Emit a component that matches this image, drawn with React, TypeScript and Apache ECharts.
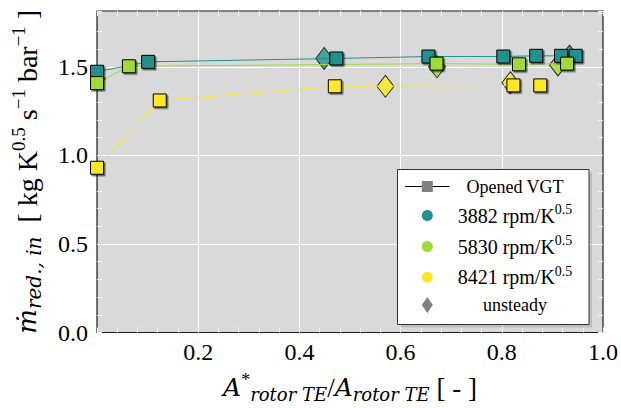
import React, { useEffect, useRef } from 'react';
import * as echarts from 'echarts';

// ---- data ----
const tealSteadyX = [0.0, 0.101, 0.473, 0.655, 0.803, 0.868, 0.917, 0.946];
const tealSteadyY = [1.472, 1.528, 1.547, 1.558, 1.558, 1.562, 1.562, 1.562];
const tealUnsteadyX = [0.449, 0.934];
const tealUnsteadyY = [1.547, 1.56];

const greenSteadyX = [0.0, 0.063, 0.671, 0.834, 0.929];
const greenSteadyY = [1.408, 1.503, 1.518, 1.514, 1.518];
const greenUnsteadyX = [0.672, 0.911];
const greenUnsteadyY = [1.5, 1.51];

const yellowSteadyX = [0.0, 0.124, 0.47, 0.823, 0.876];
const yellowSteadyY = [0.93, 1.31, 1.39, 1.395, 1.395];
const yellowUnsteadyX = [0.57, 0.817];
const yellowUnsteadyY = [1.39, 1.41];

const speedLabels = ['3882', '5830', '8421'];
const xTicks = [0.2, 0.4, 0.6, 0.8, 1.0];
const yTicks = [0.0, 0.5, 1.0, 1.5];

// ---- styles ----
const TEAL = '#21918c';
const GREEN = '#a0da39';
const YELLOW = '#fde725';
const serif = '"Liberation Serif", "DejaVu Serif", serif';
const mathIt = '"DejaVu Serif", "Liberation Serif", serif';

const pairs = (xs: number[], ys: number[]) => xs.map((x, i) => [x, ys[i]]);

const squareStyle = (color: string) => ({
  color,
  borderColor: '#000',
  borderWidth: 1,
  shadowColor: 'rgba(0,0,0,0.55)',
  shadowOffsetX: 1.5,
  shadowOffsetY: 1.5,
  shadowBlur: 0,
});

const steadySeries = (name: string, color: string, xs: number[], ys: number[]) => ({
  name,
  type: 'line',
  data: pairs(xs, ys),
  symbol: 'rect',
  symbolSize: 13,
  clip: false,
  lineStyle: { color, width: 1 },
  itemStyle: squareStyle(color),
});

const unsteadySeries = (name: string, color: string, xs: number[], ys: number[]) => ({
  name,
  type: 'scatter',
  data: pairs(xs, ys),
  symbol: 'diamond',
  symbolSize: [17, 22],
  clip: false,
  itemStyle: { color, borderColor: '#000', borderWidth: 1 },
});

const tickAxis = (position: string, interval: number, max: number) => ({
  type: 'value',
  min: 0,
  max,
  interval,
  position,
  axisLine: { show: false, onZero: false },
  axisLabel: { show: false },
  splitLine: { show: false },
  axisTick: { show: true, inside: true, length: 5, lineStyle: { color: '#f4f4f4', width: 1 } },
});

const YMAX = 1.815;

export default function App() {
  const ref = useRef<HTMLDivElement>(null);
  useEffect(() => {
    if (!ref.current) return;
    const chart = echarts.init(ref.current, undefined, { renderer: 'svg' });

    const isTick = (v: number, list: number[]) => list.some((t) => Math.abs(t - v) < 1e-6);

    const legendRows = [186.5, 215.5, 246.5, 277.3, 305];
    const lx = 427.3;
    const tx = 515;

    const option: any = {
      animation: false,
      backgroundColor: '#ffffff',
      grid: {
        left: 97,
        right: 17,
        top: 11,
        bottom: 74,
        show: true,
        backgroundColor: '#d9d9d9',
        borderColor: '#1a1a1a',
        borderWidth: 1.2,
      },
      xAxis: [
        {
          type: 'value',
          min: 0,
          max: 1,
          interval: 0.2,
          position: 'bottom',
          axisLine: { show: false, onZero: false },
          axisTick: { show: false },
          splitLine: { show: true, showMinLine: false, showMaxLine: false, lineStyle: { color: '#ffffff', width: 1 } },
          axisLabel: {
            formatter: (v: number) => (isTick(v, xTicks) ? v.toFixed(1) : ''),
            fontFamily: serif,
            fontSize: 24,
            color: '#000',
            margin: 7,
          },
          name: '{it|A}{star|*}{sub|rotor TE}{n|/}{it|A}{sub|rotor TE}{n| [ - ]}',
          nameLocation: 'middle',
          nameGap: 38,
          nameTextStyle: {
            fontFamily: serif,
            color: '#000',
            rich: {
              it: { fontFamily: mathIt, fontStyle: 'italic', fontSize: 25, color: '#000' },
              n: { fontFamily: serif, fontSize: 27, color: '#000' },
              star: { fontFamily: serif, fontSize: 18, color: '#000', padding: [0, 0, 16, 0] },
              sub: { fontFamily: mathIt, fontStyle: 'italic', fontSize: 18, color: '#000', padding: [13, 0, 0, 0] },
            },
          },
        },
        tickAxis('bottom', 0.04, 1),
        tickAxis('top', 0.04, 1),
      ],
      yAxis: [
        {
          type: 'value',
          min: 0,
          max: YMAX,
          interval: 0.5,
          position: 'left',
          axisLine: { show: false, onZero: false },
          axisTick: { show: false },
          splitLine: { show: true, showMinLine: false, showMaxLine: false, lineStyle: { color: '#ffffff', width: 1 } },
          axisLabel: {
            formatter: (v: number) => (isTick(v, yTicks) ? v.toFixed(1) : ''),
            fontFamily: serif,
            fontSize: 24,
            color: '#000',
            margin: 9,
          },
          name: '{m|ṁ}{sub|red., in}{n|  [ kg K}{sup|0.5}{n| s}{sup|−1}{n| bar}{sup|−1}{n| ]}',
          nameLocation: 'middle',
          nameGap: 52,
          nameTextStyle: {
            fontFamily: serif,
            color: '#000',
            rich: {
              m: { fontFamily: mathIt, fontStyle: 'italic', fontSize: 26, color: '#000' },
              n: { fontFamily: serif, fontSize: 28, color: '#000' },
              sup: { fontFamily: serif, fontSize: 19, color: '#000', padding: [0, 0, 17, 0] },
              sub: { fontFamily: mathIt, fontStyle: 'italic', fontSize: 20, color: '#000', padding: [13, 0, 0, 0] },
            },
          },
        },
        tickAxis('left', 0.1, YMAX),
        tickAxis('right', 0.1, YMAX),
      ],
      series: [
        unsteadySeries('3882 unsteady', TEAL, tealUnsteadyX, tealUnsteadyY),
        steadySeries('3882', TEAL, tealSteadyX, tealSteadyY),
        unsteadySeries('5830 unsteady', GREEN, greenUnsteadyX, greenUnsteadyY),
        steadySeries('5830', GREEN, greenSteadyX, greenSteadyY),
        unsteadySeries('8421 unsteady', YELLOW, yellowUnsteadyX, yellowUnsteadyY),
        steadySeries('8421', YELLOW, yellowSteadyX, yellowSteadyY),
      ],
      graphic: [
        {
          type: 'rect',
          shape: { x: 400, y: 172.5, width: 192, height: 155 },
          style: { fill: 'rgba(0,0,0,0.12)' },
          z: 100,
        },
        {
          type: 'rect',
          shape: { x: 397.5, y: 169.5, width: 191.5, height: 155 },
          style: { fill: '#ffffff', stroke: '#333', lineWidth: 1 },
          z: 101,
        },
        {
          type: 'line',
          shape: { x1: 405, y1: legendRows[0], x2: 449.5, y2: legendRows[0] },
          style: { stroke: '#000', lineWidth: 1 },
          z: 102,
        },
        {
          type: 'rect',
          shape: { x: lx - 5.5, y: legendRows[0] - 5.5, width: 11, height: 11 },
          style: { fill: '#808080' },
          z: 103,
        },
        ...[TEAL, GREEN, YELLOW].map((c, i) => ({
          type: 'circle',
          shape: { cx: lx, cy: legendRows[i + 1], r: 5.5 },
          style: { fill: c },
          z: 102,
        })),
        {
          type: 'polygon',
          shape: {
            points: [
              [lx, legendRows[4] - 8],
              [lx + 5.5, legendRows[4]],
              [lx, legendRows[4] + 8],
              [lx - 5.5, legendRows[4]],
            ],
          },
          style: { fill: '#808080' },
          z: 102,
        },
        {
          type: 'text',
          z: 102,
          style: {
            text: 'Opened VGT',
            x: tx,
            y: legendRows[0],
            align: 'center',
            verticalAlign: 'middle',
            fontFamily: serif,
            fontSize: 18,
            fill: '#000',
          },
        },
        ...speedLabels.map((s, i) => ({
          type: 'text',
          z: 102,
          style: {
            text: `{n|${s} rpm/K}{sup|0.5}`,
            x: tx,
            y: legendRows[i + 1],
            align: 'center',
            verticalAlign: 'middle',
            fontFamily: serif,
            fontSize: 18,
            fill: '#000',
            rich: {
              n: { fontFamily: serif, fontSize: 20, fill: '#000', color: '#000' },
              sup: { fontFamily: serif, fontSize: 14, fill: '#000', color: '#000', padding: [0, 0, 12, 0] },
            },
          },
        })),
        {
          type: 'text',
          z: 102,
          style: {
            text: 'unsteady',
            x: tx,
            y: legendRows[4],
            align: 'center',
            verticalAlign: 'middle',
            fontFamily: serif,
            fontSize: 18,
            fill: '#000',
          },
        },
      ],
    };

    chart.setOption(option);
    return () => chart.dispose();
  }, []);

  return (
    <div
      ref={ref}
      style={{ position: 'fixed', left: 0, top: 0, width: 621, height: 408, background: '#fff' }}
    />
  );
}
